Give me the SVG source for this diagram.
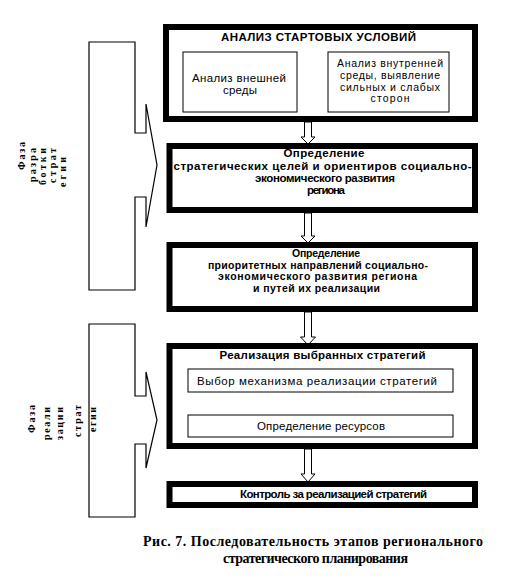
<svg xmlns="http://www.w3.org/2000/svg" width="526" height="576" viewBox="0 0 526 576">
<style>
.thick{fill:#fff;stroke:#000;stroke-width:6}
.thin{fill:#fff;stroke:#000;stroke-width:1}
.br{fill:none;stroke:#000;stroke-width:1.2}
.arr{fill:#fff;stroke:#000;stroke-width:1}
.t{font-family:"Liberation Sans",Arial,sans-serif;font-size:11.5px;fill:#000;text-anchor:middle}
.s{font-size:10.5px}
.b{font-weight:bold}
.ph{font-family:"Liberation Serif","Times New Roman",serif;font-size:10px;font-weight:bold;fill:#000;text-anchor:middle}
.cap{font-family:"Liberation Serif","Times New Roman",serif;font-size:14px;font-weight:bold;fill:#000;text-anchor:middle}
</style>
<rect width="526" height="576" fill="#fff"/>
<g id="connectors">
<polygon class="arr" points="304.5,122 311.5,122 311.5,137 315,137 308,144 301,137 304.5,137"/>
<polygon class="arr" points="304.5,213 311.5,213 311.5,236 315,236 308,243 301,236 304.5,236"/>
<polygon class="arr" points="304.5,312 311.5,312 311.5,337 315.5,337 308,345 300.5,337 304.5,337"/>
<polygon class="arr" points="304.5,449 311.5,449 311.5,474 315,474 308,482 301,474 304.5,474"/>
</g>
<g id="phase-development">
<path class="br" d="M89,42 H135 V133 H146 V104 L157,165 L146,227 V197 H135 V290 H89 Z"/>
<text class="ph" transform="translate(25,156) rotate(-90)" textLength="28">Фаза</text>
<text class="ph" transform="translate(36,165) rotate(-90)" textLength="34">разра</text>
<text class="ph" transform="translate(45.5,166.5) rotate(-90)" textLength="37">ботки</text>
<text class="ph" transform="translate(55.5,165.5) rotate(-90)" textLength="35">страт</text>
<text class="ph" transform="translate(66,172) rotate(-90)" textLength="30">егии</text>
</g>
<g id="phase-implementation">
<path class="br" d="M89,324 H135 V396 H146 V372 L157,420 L146,468 V444 H135 V517 H89 Z"/>
<text class="ph" transform="translate(35,419) rotate(-90)" textLength="28">Фаза</text>
<text class="ph" transform="translate(50,423.5) rotate(-90)" textLength="33">реали</text>
<text class="ph" transform="translate(63,423.5) rotate(-90)" textLength="33">зации</text>
<text class="ph" transform="translate(81,421) rotate(-90)" textLength="32">страт</text>
<text class="ph" transform="translate(96,419.5) rotate(-90)" textLength="25">егии</text>
</g>
<g id="start-analysis">
<rect class="thick" x="166" y="27" width="309" height="92"/>
<text class="t b" x="318.5" y="40.5" font-size="12.5" textLength="195">АНАЛИЗ СТАРТОВЫХ УСЛОВИЙ</text>
<rect class="thin" x="183" y="52" width="114" height="60"/>
<text class="t" x="239" y="81.5" textLength="94">Анализ внешней</text>
<text class="t" x="240" y="93.5" textLength="34">среды</text>
<rect class="thin" x="328" y="52" width="121" height="60"/>
<text class="t s" x="390" y="67" textLength="106">Анализ внутренней</text>
<text class="t s" x="390" y="78.5" textLength="100">среды, выявление</text>
<text class="t s" x="390" y="90.5" textLength="100">сильных и слабых</text>
<text class="t s" x="390" y="102" textLength="39">сторон</text>
</g>
<g id="goals">
<rect class="thick" x="169.5" y="146" width="305.5" height="64"/>
<text class="t b" x="324" y="157" textLength="81">Определение</text>
<text class="t b" x="322.5" y="169.5" textLength="298">стратегических целей и ориентиров социально-</text>
<text class="t b" x="325" y="182" textLength="140">экономического развития</text>
<text class="t b" x="326" y="194" textLength="38">региона</text>
</g>
<g id="priorities">
<rect class="thick" x="169.5" y="245" width="305.5" height="64"/>
<text class="t b s" x="326" y="256.5" textLength="68">Определение</text>
<text class="t b s" x="318" y="268.5" textLength="220">приоритетных направлений социально-</text>
<text class="t b s" x="317.5" y="280" textLength="199">экономического развития региона</text>
<text class="t b s" x="316.5" y="291.5" textLength="127">и путей их реализации</text>
</g>
<g id="implementation">
<rect class="thick" x="169.5" y="346" width="305.5" height="100"/>
<text class="t b" x="322.5" y="359" textLength="206">Реализация выбранных стратегий</text>
<rect class="thin" x="188" y="369" width="265" height="23"/>
<text class="t" x="317" y="385" textLength="240">Выбор механизма реализации стратегий</text>
<rect class="thin" x="188" y="415" width="265" height="22"/>
<text class="t" x="321" y="430" textLength="128">Определение ресурсов</text>
</g>
<g id="control">
<rect class="thick" x="169.5" y="484" width="305.5" height="21"/>
<text class="t b" x="333.5" y="498" textLength="187">Контроль за реализацией стратегий</text>
</g>
<g id="caption">
<text class="cap" x="313" y="546" textLength="340">Рис. 7. Последовательность этапов регионального</text>
<text class="cap" x="315.5" y="563" textLength="185">стратегического планирования</text>
</g>
</svg>
